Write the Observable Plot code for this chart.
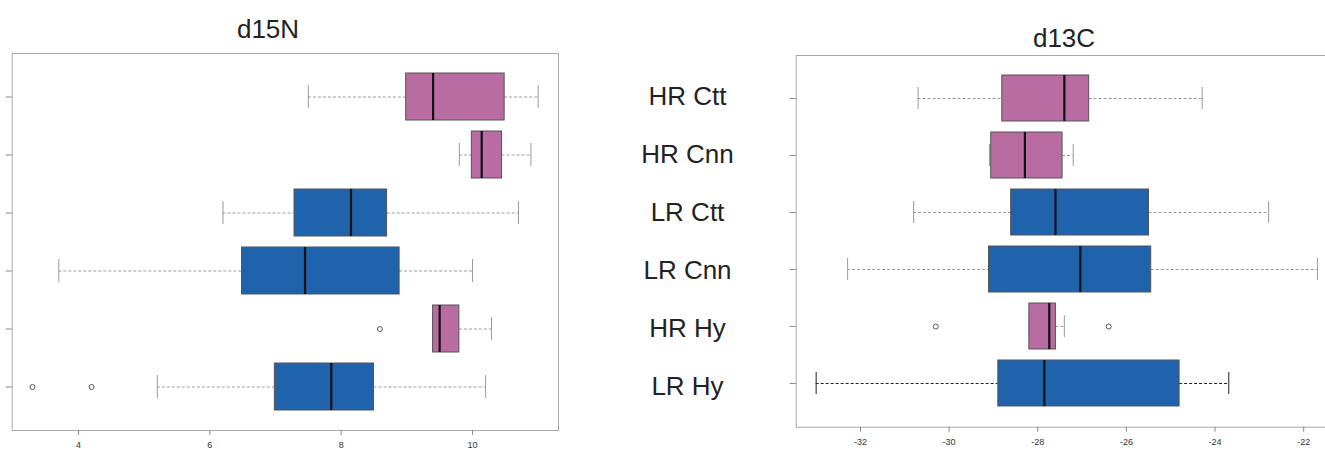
<!DOCTYPE html>
<html>
<head>
<meta charset="utf-8">
<script src="https://cdn.jsdelivr.net/npm/d3@7"></script>
<script src="https://cdn.jsdelivr.net/npm/@observablehq/plot@0.6"></script>
<style>
  html, body { margin: 0; padding: 0; background: #fff; }
  #wrap { position: relative; width: 1325px; height: 451px; overflow: hidden; background: #fff; }
  #left, #right { position: absolute; top: 0; }
  #left { left: 0; }
  #right { left: 740px; }
  .title { position: absolute; transform: translate(-50%, -50%); font-family: "Liberation Sans", Arial, sans-serif; font-size: 26px; color: #222; white-space: nowrap; }
  svg { background: transparent !important; max-width: none !important; }
</style>
</head>
<body>
<div id="wrap">
  <div id="left"></div>
  <div id="right"></div>
  <div class="title" style="left:268px; top:29px;">d15N</div>
  <div class="title" style="left:1064px; top:38px;">d13C</div>
</div>
<script>
// Categories (top to bottom) and their group
const rows   = ["HR Ctt", "HR Cnn", "LR Ctt", "LR Cnn", "HR Hy", "LR Hy"];
const groups = ["HR", "HR", "LR", "LR", "HR", "LR"];

// d15N box statistics
const n15Lo  = [7.50, 9.80, 6.20, 3.70, 9.40, 5.20];
const n15Q1  = [8.99, 9.99, 7.29, 6.49, 9.40, 6.99];
const n15Med = [9.40, 10.14, 8.15, 7.45, 9.50, 7.85];
const n15Q3  = [10.49, 10.45, 8.70, 8.89, 9.80, 8.50];
const n15Hi  = [11.00, 10.89, 10.70, 10.00, 10.29, 10.20];
const n15OutRows = ["HR Hy", "LR Hy", "LR Hy"];
const n15OutVals = [8.59, 3.30, 4.20];
const n15Ticks = [4, 6, 8, 10];

// d13C box statistics
const c13Lo  = [-30.70, -29.09, -30.80, -32.29, -28.19, -33.00];
const c13Q1  = [-28.80, -29.05, -28.60, -29.10, -28.19, -28.89];
const c13Med = [-27.40, -28.29, -27.60, -27.04, -27.74, -27.85];
const c13Q3  = [-26.84, -27.44, -25.49, -25.44, -27.59, -24.80];
const c13Hi  = [-24.29, -27.20, -22.79, -21.69, -27.40, -23.69];
const c13OutRows = ["HR Hy", "HR Hy"];
const c13OutVals = [-30.30, -26.40];
const c13Ticks = [-32, -30, -28, -26, -24, -22];

const groupColor = {HR: "#B86CA2", LR: "#1E63AB"};

function table(lo, q1, med, q3, hi) {
  return rows.map((r, i) => ({row: r, group: groups[i], lo: lo[i], q1: q1[i], med: med[i], q3: q3[i], hi: hi[i]}));
}
function outTable(rs, vs) { return rs.map((r, i) => ({row: r, v: vs[i]})); }

const n15 = table(n15Lo, n15Q1, n15Med, n15Q3, n15Hi);
const c13 = table(c13Lo, c13Q1, c13Med, c13Q3, c13Hi);
const n15Out = outTable(n15OutRows, n15OutVals);
const c13Out = outTable(c13OutRows, c13OutVals);

function boxMarks(data, outs, whiskerStroke) {
  return [
    Plot.ruleY(data, {y: "row", x1: "lo", x2: "q1", stroke: whiskerStroke, strokeWidth: 1, strokeDasharray: "3,2"}),
    Plot.ruleY(data, {y: "row", x1: "q3", x2: "hi", stroke: whiskerStroke, strokeWidth: 1, strokeDasharray: "3,2"}),
    Plot.tickX(data, {x: "lo", y: "row", stroke: whiskerStroke, strokeWidth: 1, insetTop: 12, insetBottom: 12}),
    Plot.tickX(data, {x: "hi", y: "row", stroke: whiskerStroke, strokeWidth: 1, insetTop: 12, insetBottom: 12}),
    Plot.barX(data, {x1: "q1", x2: "q3", y: "row", fill: d => groupColor[d.group], stroke: "#555", strokeWidth: 1}),
    Plot.tickX(data, {x: "med", y: "row", stroke: "#111", strokeWidth: 2.2}),
    Plot.dot(outs, {x: "v", y: "row", r: 2.5, stroke: "#444", strokeWidth: 0.9, fill: "none"})
  ];
}

const left = Plot.plot({
  width: 760, height: 451,
  marginLeft: 11.7, marginRight: 202, marginTop: 53, marginBottom: 21,
  x: {domain: [2.99, 11.31], label: null},
  y: {type: "band", domain: rows, paddingInner: 0.19, paddingOuter: 0.345, label: null},
  style: {background: "transparent", color: "#333", fontFamily: "Liberation Sans, Arial, sans-serif"},
  marks: [
    Plot.frame({stroke: "#a8a8a8"}),
    ...boxMarks(n15, n15Out, "#9a9a9a"),
    Plot.axisX({ticks: n15Ticks, tickSize: 5, tickPadding: 6, fontSize: 9, stroke: "#888", fill: "#333", label: null}),
    Plot.axisY({anchor: "left", tickSize: 6, tickFormat: () => "", stroke: "#888", label: null}),
    Plot.axisY({anchor: "right", tickSize: 0, tickPadding: 129, textAnchor: "middle", fontSize: 26, fill: "#222", label: null})
  ]
});
document.getElementById("left").appendChild(left);

const right = Plot.plot({
  width: 600, height: 451,
  marginLeft: 55.7, marginRight: 8, marginTop: 55, marginBottom: 24.3,
  x: {domain: [-33.45, -21.35], label: null},
  y: {type: "band", domain: rows, paddingInner: 0.19, paddingOuter: 0.333, label: null},
  style: {background: "transparent", color: "#333", fontFamily: "Liberation Sans, Arial, sans-serif"},
  marks: [
    Plot.frame({stroke: "#a8a8a8"}),
    ...boxMarks(c13, c13Out, d => d.row === "LR Hy" ? "#222" : "#9a9a9a"),
    Plot.axisX({ticks: c13Ticks, tickSize: 5, tickPadding: 6, fontSize: 9, stroke: "#888", fill: "#333", tickFormat: d => String(d), label: null}),
    Plot.axisY({anchor: "left", tickSize: 6, tickFormat: () => "", stroke: "#888", label: null})
  ]
});
document.getElementById("right").appendChild(right);
</script>
</body>
</html>
